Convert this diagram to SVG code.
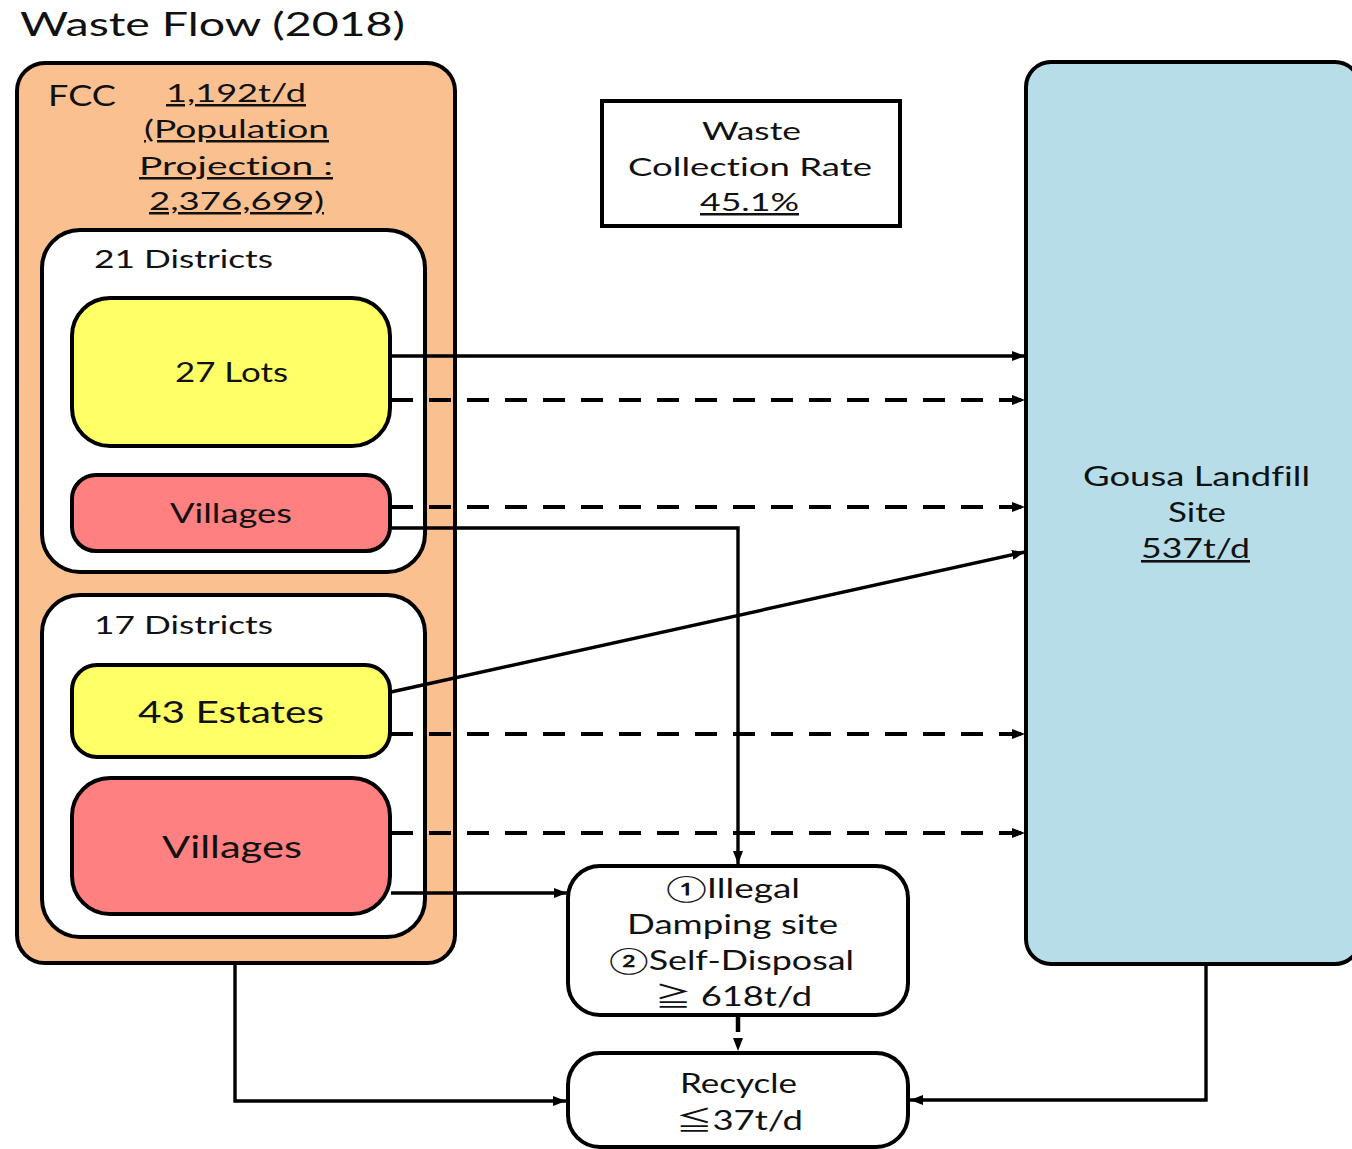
<svg xmlns="http://www.w3.org/2000/svg" width="1352" height="1149" viewBox="0 0 1352 1149">
<style>
text{font-family:Lato,"Noto Sans CJK JP","DejaVu Sans",sans-serif;fill:#111;font-variant-ligatures:none;}
.box{stroke:#000;stroke-width:4;}
.ln{fill:none;stroke:#000;stroke-width:3.4;}
.dl{fill:none;stroke:#000;stroke-width:3.8;stroke-dasharray:22 16;}
.u{text-decoration:underline;text-decoration-thickness:1.5px;text-underline-offset:4px;}
</style>
<defs>
<marker id="ah" markerWidth="13" markerHeight="10" refX="13" refY="5" orient="auto" markerUnits="userSpaceOnUse"><path d="M0,0 L13,5 L0,10 z" fill="#000"/></marker>
</defs>
<text x="20" y="36" font-size="33" textLength="385" lengthAdjust="spacingAndGlyphs">Waste Flow (2018)</text>
<g id="fcc">
<rect class="box" x="17" y="63" width="438" height="900" rx="28" fill="#FAC090"/>
<text x="48" y="106" font-size="28" textLength="68" lengthAdjust="spacingAndGlyphs">FCC</text>
<text class="u" x="166" y="102" font-size="25" textLength="140" lengthAdjust="spacingAndGlyphs">1,192t/d</text>
<text class="u" x="144" y="138" font-size="25" textLength="185" lengthAdjust="spacingAndGlyphs">(Population</text>
<text class="u" x="139" y="175" font-size="25" textLength="194" lengthAdjust="spacingAndGlyphs">Projection  :</text>
<text class="u" x="149" y="210" font-size="25" textLength="175" lengthAdjust="spacingAndGlyphs">2,376,699)</text>
</g>
<g id="d21">
<rect class="box" x="42" y="230" width="383" height="342" rx="38" fill="#fff"/>
<text x="94" y="268" font-size="25" textLength="179" lengthAdjust="spacingAndGlyphs">21 Districts</text>
</g>
<g id="lots27">
<rect class="box" x="72" y="298" width="318" height="148" rx="38" fill="#FFFF66"/>
<text x="175" y="382" font-size="27" textLength="113" lengthAdjust="spacingAndGlyphs">27 Lots</text>
</g>
<g id="villages1">
<rect class="box" x="72" y="475" width="318" height="76" rx="24" fill="#FF8080"/>
<text x="170" y="523" font-size="27" textLength="122" lengthAdjust="spacingAndGlyphs">Villages</text>
</g>
<g id="d17">
<rect class="box" x="42" y="595" width="383" height="342" rx="38" fill="#fff"/>
<text x="94" y="634" font-size="25" textLength="179" lengthAdjust="spacingAndGlyphs">17 Districts</text>
</g>
<g id="estates43">
<rect class="box" x="72" y="665" width="318" height="92" rx="25" fill="#FFFF66"/>
<text x="138" y="723" font-size="30" textLength="186" lengthAdjust="spacingAndGlyphs">43 Estates</text>
</g>
<g id="villages2">
<rect class="box" x="72" y="778" width="318" height="136" rx="38" fill="#FF8080"/>
<text x="162" y="858" font-size="30" textLength="140" lengthAdjust="spacingAndGlyphs">Villages</text>
</g>
<g id="rate">
<rect class="box" x="602" y="101" width="298" height="125" fill="#fff"/>
<text x="702" y="140" font-size="25" textLength="99" lengthAdjust="spacingAndGlyphs">Waste</text>
<text x="628" y="176" font-size="25" textLength="244" lengthAdjust="spacingAndGlyphs">Collection Rate</text>
<text class="u" x="700" y="211" font-size="25" textLength="99" lengthAdjust="spacingAndGlyphs">45.1%</text>
</g>
<g id="gousa">
<rect class="box" x="1026" y="62" width="334" height="902" rx="25" fill="#B7DEE8"/>
<text x="1083" y="486" font-size="26" textLength="227" lengthAdjust="spacingAndGlyphs">Gousa Landfill</text>
<text x="1168" y="522" font-size="26" textLength="58" lengthAdjust="spacingAndGlyphs">Site</text>
<text class="u" x="1141" y="558" font-size="26" textLength="109" lengthAdjust="spacingAndGlyphs">537t/d</text>
</g>
<g id="illegal">
<rect class="box" x="568" y="866" width="340" height="149" rx="32" fill="#fff"/>
<text x="666" y="898" font-size="26" textLength="134" lengthAdjust="spacingAndGlyphs">①Illegal</text>
<text x="627" y="934" font-size="26" textLength="211" lengthAdjust="spacingAndGlyphs">Damping site</text>
<text x="609" y="970" font-size="26" textLength="245" lengthAdjust="spacingAndGlyphs">②Self-Disposal</text>
<text x="655" y="1006" font-size="26" textLength="157" lengthAdjust="spacingAndGlyphs">≧ 618t/d</text>
</g>
<g id="recycle">
<rect class="box" x="568" y="1053" width="340" height="94" rx="32" fill="#fff"/>
<text x="680" y="1093" font-size="26" textLength="117" lengthAdjust="spacingAndGlyphs">Recycle</text>
<text x="676" y="1130" font-size="26" textLength="127" lengthAdjust="spacingAndGlyphs">≦37t/d</text>
</g>
<g id="connectors">
<path class="ln" d="M391,356 H1025" marker-end="url(#ah)"/>
<path class="dl" d="M391,400 H1025" marker-end="url(#ah)"/>
<path class="dl" d="M391,507 H1025" marker-end="url(#ah)"/>
<path class="ln" d="M391,528 H738 V864" marker-end="url(#ah)"/>
<path class="ln" d="M391,692 L1025,552" marker-end="url(#ah)"/>
<path class="dl" d="M391,734 H1025" marker-end="url(#ah)"/>
<path class="dl" d="M391,833 H1025" marker-end="url(#ah)"/>
<path class="ln" d="M391,893 H567" marker-end="url(#ah)"/>
<path d="M738,1017 V1051" fill="none" stroke="#000" stroke-width="4.5" stroke-dasharray="15 40" marker-end="url(#ah)"/>
<path class="ln" d="M235,964 V1101 H566" marker-end="url(#ah)"/>
<path class="ln" d="M1206,965 V1100 H910" marker-end="url(#ah)"/>
</g>
</svg>
